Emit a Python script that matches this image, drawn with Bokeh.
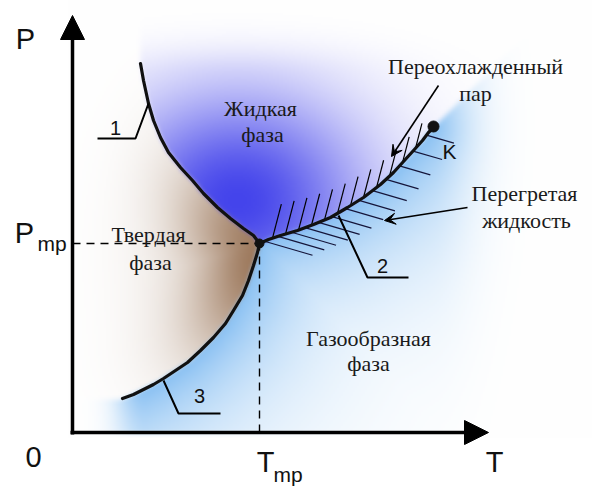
import numpy as np
from bokeh.plotting import figure
from bokeh.models import Range1d, Arrow, NormalHead, VeeHead
from bokeh.core.properties import value
from bokeh.embed import file_html
from bokeh.resources import INLINE

# ---------------- data (T, P in diagram units; origin = axes corner) ----------------
# curve 1: melting (solid / liquid)
melt_T = [68, 71, 76, 81, 88, 96, 108, 120, 131, 145, 158, 171, 181, 187]
melt_P = [369, 352, 329, 312, 295, 280, 265, 252, 239, 225, 214, 204, 197, 189]
# curve 3: sublimation (solid / gas)
subl_T = [50, 61, 71, 81, 91, 103, 115, 128, 141, 153, 161, 170, 176, 181, 185, 187]
subl_P = [34, 38, 43, 48, 54, 62, 70, 82, 95, 109, 122, 137, 152, 167, 180, 189]
# curve 2: vaporization (liquid / gas), ends at critical point K
vap_T = [187, 196, 208, 225, 241, 258, 275, 291, 308, 321, 331, 341, 350, 356, 361]
vap_P = [189, 193, 197, 202, 208, 215, 225, 235, 248, 260, 271, 282, 292, 300, 305]

triple_T, triple_P = 187, 189
crit_T, crit_P = 361, 306

region_labels = ["Жидкая", "фаза", "Твердая", "фаза", "Газообразная", "фаза",
                 "Переохлажденный", "пар", "Перегретая", "жидкость"]
region_T = [188, 190, 76, 78, 296, 296, 403, 403, 452, 454]
region_P = [324, 298, 198, 170, 94, 69, 366, 339, 239, 212]

curve_numbers = ["1", "2", "3"]
number_T = [43, 310, 127]
number_P = [305, 167, 37]

# ---------------- figure ----------------
W, H = 592, 487
T0, P0 = -72, -55
p = figure(width=W, height=H, x_range=Range1d(T0, T0 + W), y_range=Range1d(P0, P0 + H),
           output_backend="svg", toolbar_location=None, min_border=0)
p.axis.visible = False
p.grid.visible = False
p.outline_line_color = None
p.background_fill_color = "white"
p.border_fill_color = "white"

# ---------------- background colour field ----------------
nx, ny = W // 2, (H + 1) // 2
Tc = T0 + (np.arange(nx) + 0.5) * 2.0
Pc = P0 + (np.arange(ny) + 0.5) * 2.0
TT, PP = np.meshgrid(Tc, Pc)


def densify(T, P, step=2.0):
    pts = []
    for i in range(len(T) - 1):
        n = max(1, int(np.hypot(T[i + 1] - T[i], P[i + 1] - P[i]) / step))
        for k in range(n):
            f = k / n
            pts.append((T[i] + f * (T[i + 1] - T[i]), P[i] + f * (P[i + 1] - P[i])))
    pts.append((T[-1], P[-1]))
    return np.array(pts)


def distance_to(pts):
    out = np.empty_like(TT)
    for r in range(ny):
        d2 = (TT[r][:, None] - pts[None, :, 0]) ** 2 + (PP[r][:, None] - pts[None, :, 1]) ** 2
        out[r] = np.sqrt(d2.min(axis=1))
    return out


dist_gas = distance_to(np.vstack([densify(vap_T, vap_P), densify(subl_T, subl_P)]))
dist_sol = distance_to(np.vstack([densify(melt_T, melt_P), densify(subl_T, subl_P)]))

melt_T_of_P = np.interp(PP, melt_P[::-1], melt_T[::-1])
subl_T_of_P = np.interp(PP, subl_P, subl_T)
vapP = np.interp(TT, vap_T, vap_P)
vapP = np.where(TT > vap_T[-1], vap_P[-1] + (TT - vap_T[-1]) * 1.0, vapP)

upper = PP >= triple_P
solid = np.where(upper, TT < melt_T_of_P, (TT < subl_T_of_P) & (PP >= subl_P[0]))
liquid = upper & ~solid & ((TT < triple_T) | (PP > vapP))
gas = ~solid & ~liquid

top_fade = np.exp(-np.clip(PP - 358, 0, None) ** 2 / (2 * 28 ** 2))
aL = np.exp(-((TT - 165) ** 2 / (2 * 92 ** 2) + (PP - 232) ** 2 / (2 * 78 ** 2))) * top_fade
aS = (0.95 * np.exp(-(TT - 190) ** 2 / (2 * 70 ** 2)) * np.exp(-(PP - 175) ** 2 / (2 * 80 ** 2))
      * (0.4 + 0.6 * np.exp(-(dist_sol / 60.0) ** 2)))
right_fade = np.exp(-np.clip(TT - 358, 0, None) ** 2 / (2 * 40 ** 2))
left_fade = np.exp(-np.clip(75 - TT, 0, None) ** 2 / (2 * 22 ** 2))
aG = 0.82 * np.exp(-dist_gas / 70.0) * right_fade * left_fade

liq_c = np.array([68, 68, 235], float)
sol_c = np.array([152, 114, 84], float)
gas_c = np.array([110, 178, 240], float)
rgb = np.ones(TT.shape + (3,)) * 255.0
for mask, a, c in ((liquid, aL, liq_c), (solid, aS, sol_c), (gas, aG, gas_c)):
    col = 255.0 * (1 - a[..., None]) + c[None, None, :] * a[..., None]
    rgb[mask] = col[mask]
outside = (TT < 0) | (PP < 0)
rgb[outside] = 255.0


def blur(a):
    out = a.copy()
    for _ in range(2):
        pad = np.pad(out, ((1, 1), (1, 1), (0, 0)), mode="edge")
        out = sum(pad[i:i + out.shape[0], j:j + out.shape[1]] for i in range(3) for j in range(3)) / 9.0
    return out


rgb = blur(rgb)
img = np.empty((ny, nx), dtype=np.uint32)
view = img.view(dtype=np.uint8).reshape((ny, nx, 4))
view[..., 0] = rgb[..., 0].astype(np.uint8)
view[..., 1] = rgb[..., 1].astype(np.uint8)
view[..., 2] = rgb[..., 2].astype(np.uint8)
view[..., 3] = 255
p.image_rgba(image=[img], x=T0, y=P0, dw=nx * 2, dh=ny * 2)

# ---------------- hatching along curve 2 ----------------
hu_T = np.arange(200, 356, 13.0)
hu_P = np.interp(hu_T, vap_T, vap_P)
hu_L = 34 - 10 * (hu_T - 200) / 156
p.segment(x0=hu_T, y0=hu_P, x1=hu_T + hu_L * 0.26, y1=hu_P + hu_L,
          line_color="black", line_width=1.2)
hl_T = np.arange(192, 358, 13.5)
hl_P = np.interp(hl_T, vap_T, vap_P)
hl_L = 50 - 22 * (hl_T - 192) / 166
p.segment(x0=hl_T, y0=hl_P, x1=hl_T + hl_L * 0.96, y1=hl_P - hl_L * 0.28,
          line_color="#15153a", line_width=1.2)

# ---------------- dashed guides ----------------
p.line([0, triple_T], [triple_P, triple_P], line_color="black", line_width=1.4, line_dash="8 6")
p.line([triple_T, triple_T], [0, triple_P], line_color="black", line_width=1.4, line_dash="8 6")

# ---------------- phase curves ----------------
for Ts, Ps in ((melt_T, melt_P), (subl_T, subl_P), (vap_T, vap_P)):
    p.line(Ts, Ps, line_color="#111111", line_width=3.2, line_cap="round", line_join="round")
p.scatter([triple_T], [triple_P], size=9, color="#111111")
p.scatter([crit_T], [crit_P], size=11, color="#111111")

# ---------------- leader lines for curve numbers ----------------
p.line([25, 63, 76], [294, 294, 329], line_color="black", line_width=2)
p.line([266, 295, 336], [217, 155, 155], line_color="black", line_width=2)
p.line([91, 106, 148], [52, 19, 19], line_color="black", line_width=2)

# ---------------- pointer arrows ----------------
p.add_layout(Arrow(end=VeeHead(size=11, fill_color="black", line_color="black", line_width=1),
                   x_start=366, y_start=347, x_end=319, y_end=276,
                   line_color="black", line_width=1.6))
p.add_layout(Arrow(end=VeeHead(size=11, fill_color="black", line_color="black", line_width=1),
                   x_start=395, y_start=225, x_end=312, y_end=212,
                   line_color="black", line_width=1.6))

# ---------------- axes ----------------
p.add_layout(Arrow(end=NormalHead(size=24, fill_color="black", line_color="black"),
                   x_start=0, y_start=-2, x_end=0, y_end=417, line_color="black", line_width=3.5))
p.add_layout(Arrow(end=NormalHead(size=24, fill_color="black", line_color="black"),
                   x_start=-2, y_start=0, x_end=416, y_end=0, line_color="black", line_width=3.5))

# ---------------- texts ----------------
serif = value("Liberation Serif")
sans = value("Liberation Sans")
p.text(x=region_T, y=region_P, text=region_labels, text_font=serif, text_font_size="22px",
       text_align="center", text_baseline="alphabetic", text_color="#1a1a1a")
p.text(x=number_T, y=number_P, text=curve_numbers, text_font=sans, text_font_size="20px",
       text_align="center", text_baseline="middle", text_color="#111111")

p.text(x=[-47, -48, -39, 193, 422], y=[394, 200, -24, -29, -29], text=["P", "P", "0", "T", "T"],
       text_font=sans, text_font_size="29px", text_align="center", text_baseline="middle",
       text_color="#111111")
p.text(x=[-35, 201], y=[189, -42], text=["mp", "mp"], text_font=sans, text_font_size="21px",
       text_align="left", text_baseline="alphabetic", text_color="#111111")
p.text(x=[377], y=[281], text=["K"], text_font=sans, text_font_size="21px",
       text_align="center", text_baseline="middle", text_color="#111111")

open("out.html", "w").write(file_html(p, INLINE))
